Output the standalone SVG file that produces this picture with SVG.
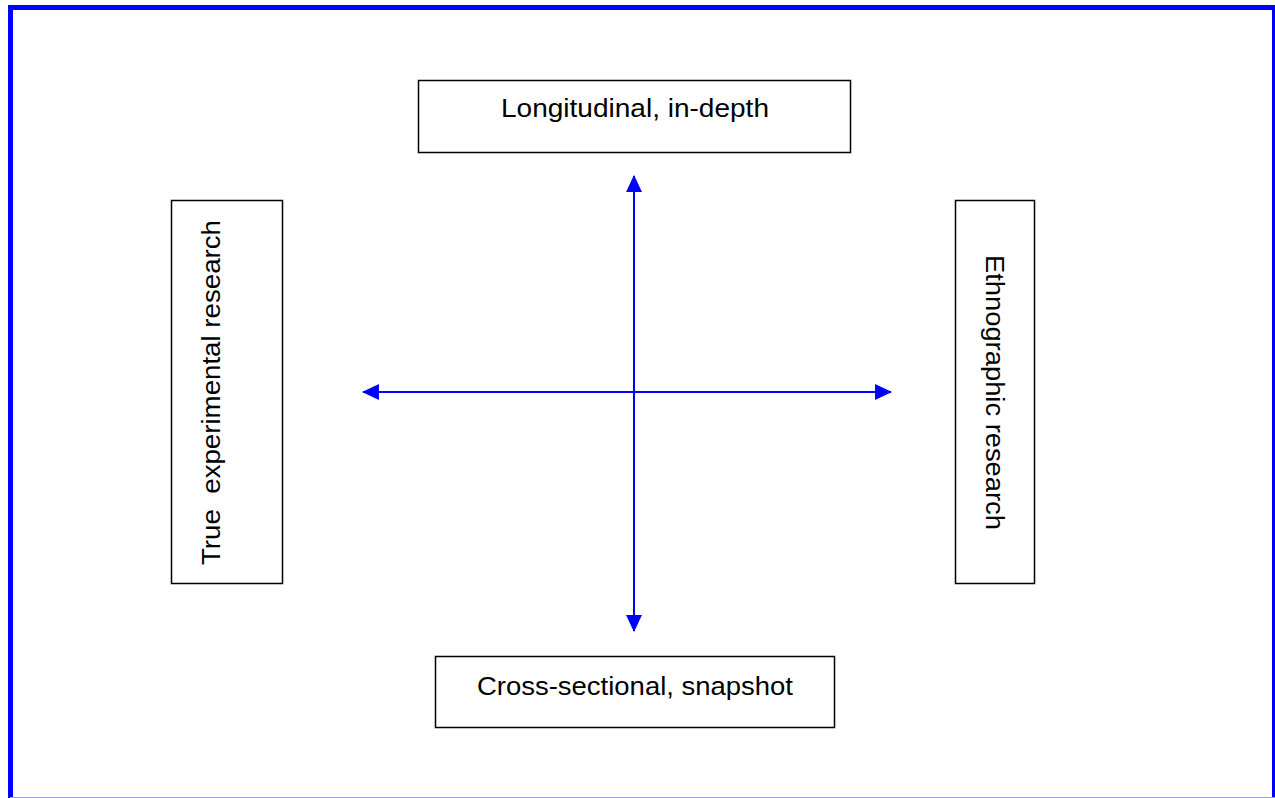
<svg xmlns="http://www.w3.org/2000/svg" width="1275" height="798" viewBox="0 0 1275 798">
<style>
.box{fill:#fff;stroke:#000;stroke-width:1.5}
.t{font-family:"Liberation Sans",Arial,sans-serif;font-size:25px;fill:#000;text-anchor:middle;white-space:pre}
.ax{stroke:#0000ff;stroke-width:2;fill:none}
</style>
<defs>
<marker id="ah" markerWidth="17" markerHeight="16" refX="16" refY="8" orient="auto" markerUnits="userSpaceOnUse">
<path d="M0,0 L17,8 L0,16 Z" fill="#0000ff"/>
</marker>
</defs>
<rect x="0" y="0" width="1275" height="798" fill="#fff"/>
<rect x="10.5" y="7.5" width="1264" height="810" fill="none" stroke="#0000ff" stroke-width="5"/>
<line x1="10" y1="797.5" x2="1275" y2="797.5" stroke="#9999ff" stroke-width="1"/>
<g id="connectors">
<line class="ax" x1="634" y1="392" x2="634" y2="176" marker-end="url(#ah)"/>
<line class="ax" x1="634" y1="392" x2="634" y2="631" marker-end="url(#ah)"/>
<line class="ax" x1="634" y1="392" x2="363" y2="392" marker-end="url(#ah)"/>
<line class="ax" x1="634" y1="392" x2="891" y2="392" marker-end="url(#ah)"/>
</g>
<g id="top">
<rect class="box" x="418.5" y="80.5" width="432" height="72"/>
<text class="t" x="635" y="117" textLength="268" lengthAdjust="spacingAndGlyphs">Longitudinal, in-depth</text>
</g>
<g id="bottom">
<rect class="box" x="435.5" y="656.5" width="399" height="71"/>
<text class="t" x="635" y="695" textLength="316" lengthAdjust="spacingAndGlyphs">Cross-sectional, snapshot</text>
</g>
<g id="left">
<rect class="box" x="171.5" y="200.5" width="111" height="383"/>
<text class="t" transform="translate(220,392.5) rotate(-90)" textLength="345" lengthAdjust="spacingAndGlyphs">True  experimental research</text>
</g>
<g id="right">
<rect class="box" x="955.5" y="200.5" width="79" height="383"/>
<text class="t" transform="translate(986,392.5) rotate(90)" textLength="275" lengthAdjust="spacingAndGlyphs">Ethnographic research</text>
</g>
</svg>
